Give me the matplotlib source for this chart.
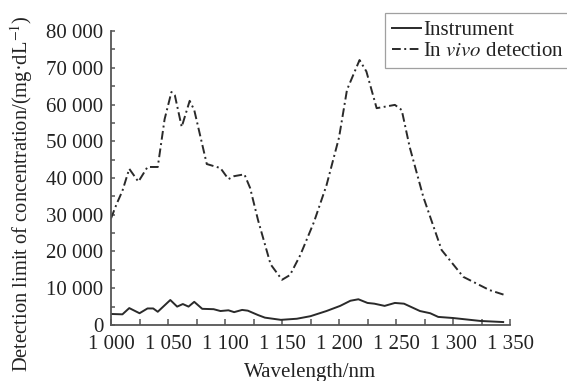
import matplotlib
matplotlib.use("Agg")
import matplotlib.pyplot as plt
from matplotlib.ticker import MultipleLocator, FuncFormatter

# Instrument detection limit
wl_instrument = [1000, 1010, 1016, 1025, 1032, 1037, 1041, 1052, 1058, 1063, 1068, 1073,
                 1080, 1090, 1096, 1103, 1108, 1115, 1120, 1129, 1135, 1149, 1163, 1175,
                 1189, 1201, 1210, 1217, 1225, 1231, 1240, 1249, 1257, 1271, 1280, 1287,
                 1300, 1324, 1344]
val_instrument = [3000, 2900, 4600, 3200, 4500, 4500, 3600, 6800, 5000, 5700, 5000, 6300,
                  4400, 4300, 3800, 4000, 3500, 4100, 3900, 2700, 2000, 1400, 1700, 2400,
                  3800, 5200, 6600, 7000, 6000, 5800, 5200, 6000, 5800, 3800, 3200, 2200,
                  1900, 1100, 800]

# In vivo detection limit
wl_vivo = [1000, 1005, 1010, 1016, 1024, 1032, 1041, 1047, 1053, 1056, 1062, 1069, 1073,
           1084, 1096, 1103, 1108, 1117, 1122, 1129, 1140, 1150, 1157, 1166, 1178, 1189,
           1200, 1207, 1218, 1224, 1233, 1242, 1249, 1255, 1262, 1274, 1290, 1309, 1332,
           1345]
val_vivo = [29000, 33000, 36500, 42500, 39000, 43000, 43000, 56000, 63400, 62500, 53900,
            61000, 58500, 43800, 42700, 39700, 40500, 41000, 37300, 28500, 16500, 12300,
            13600, 19000, 28000, 38000, 51000, 64000, 72100, 69000, 59000, 59500, 59900,
            58500, 48400, 34800, 20400, 13100, 9500, 8200]

xticks = [1000, 1050, 1100, 1150, 1200, 1250, 1300, 1350]
yticks = [0, 10000, 20000, 30000, 40000, 50000, 60000, 70000, 80000]

plt.rcParams['font.family'] = ['Liberation Serif', 'DejaVu Serif']
plt.rcParams['mathtext.fontset'] = 'stix'

fig = plt.figure(figsize=(5.67, 3.81), dpi=100)
ax = fig.add_axes([0.1958, 0.147, 0.8995 - 0.1958, 0.9186 - 0.147])

ax.plot(wl_instrument, val_instrument, color='#2a2a2a', lw=1.4, label='Instrument')
ax.plot(wl_vivo, val_vivo, color='#2a2a2a', lw=1.4, linestyle=(0, (4.5, 1.8, 1.0, 1.8)),
        label='In $\\it{vivo}$ detection')

ax.set_xlim(1000, 1350)
ax.set_ylim(0, 80000)
ax.set_xticks(xticks)
ax.set_yticks(yticks)
ax.xaxis.set_minor_locator(MultipleLocator(25))
ax.yaxis.set_minor_locator(MultipleLocator(5000))

fmt = FuncFormatter(lambda v, p: f"{int(v):,}".replace(",", " "))
ax.xaxis.set_major_formatter(fmt)
ax.yaxis.set_major_formatter(fmt)

for s in ['top', 'right']:
    ax.spines[s].set_visible(False)
for s in ['left', 'bottom']:
    ax.spines[s].set_color('#555555')
    ax.spines[s].set_linewidth(1.3)

ax.tick_params(axis='x', which='both', direction='in', length=4, width=1.1,
               color='#555555', labelsize=15, pad=7.5)
ax.tick_params(axis='y', which='both', direction='in', length=3, width=1.1,
               color='#555555', labelsize=15, pad=5.5)
ax.tick_params(labelcolor='#222222')

ax.set_xlabel('Wavelength/nm', fontsize=15, color='#222222', labelpad=6)
ax.set_ylabel('Detection limit of concentration/(mg·dL$^{-1}$)', fontsize=14.8,
              color='#222222')
ax.yaxis.set_label_coords(-0.19, 0.447)

leg = fig.legend(loc='upper right', bbox_to_anchor=(1.008, 0.966), fontsize=15,
                 frameon=True, fancybox=False, edgecolor='#888888', handlelength=1.4,
                 handletextpad=0.1, borderpad=0.35, labelspacing=0.08, borderaxespad=0)
leg.get_frame().set_linewidth(0.9)
for t in leg.get_texts():
    t.set_color('#222222')

fig.savefig('out.png', dpi=100)
